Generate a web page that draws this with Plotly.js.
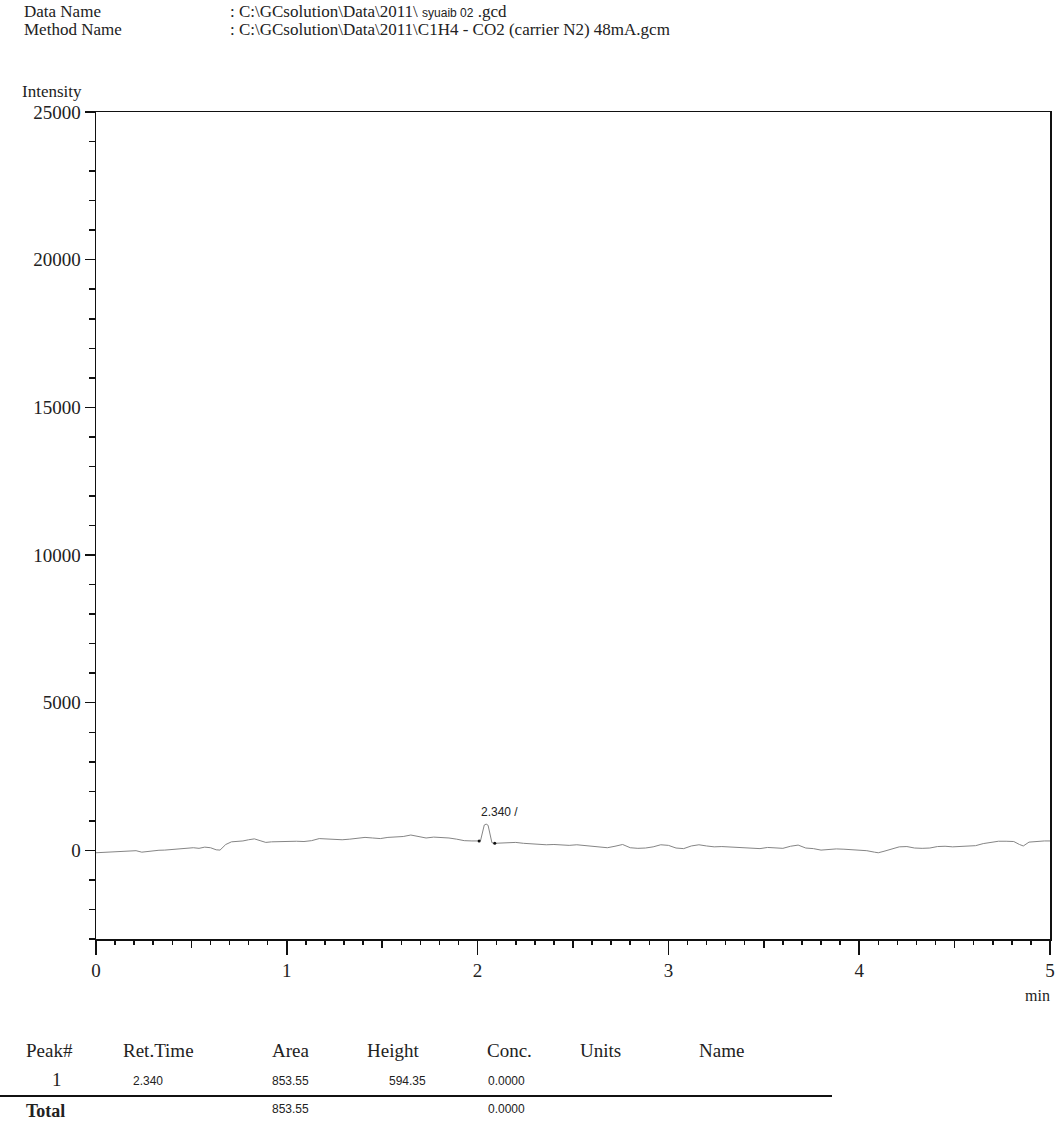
<!DOCTYPE html>
<html>
<head>
<meta charset="utf-8">
<script src="https://cdn.plot.ly/plotly-3.0.1.min.js"></script>
<style>
html,body{margin:0;padding:0;background:#fff;}
#chart{width:1058px;height:1125px;}
</style>
</head>
<body>
<div id="chart"></div>
<script>
// ---- Data ----
const timeMin = [0,0.03,0.06,0.09,0.12,0.15,0.18,0.21,0.24,0.27,0.30,0.33,0.36,0.39,0.42,0.45,0.48,0.51,0.54,0.57,0.60,0.63,0.65,0.68,0.71,0.74,0.77,0.80,0.83,0.86,0.89,0.92,0.95,0.98,1.01,1.05,1.09,1.13,1.17,1.21,1.25,1.29,1.33,1.37,1.41,1.45,1.49,1.53,1.57,1.61,1.65,1.69,1.73,1.77,1.81,1.85,1.89,1.93,1.97,2.00,2.015,2.035,2.045,2.055,2.075,2.09,2.12,2.16,2.20,2.24,2.28,2.32,2.36,2.40,2.44,2.48,2.52,2.56,2.60,2.64,2.68,2.72,2.76,2.80,2.84,2.88,2.92,2.96,3.00,3.04,3.08,3.12,3.16,3.20,3.24,3.28,3.32,3.36,3.40,3.44,3.48,3.52,3.56,3.60,3.64,3.68,3.72,3.76,3.80,3.84,3.88,3.92,3.96,4.00,4.04,4.08,4.10,4.13,4.17,4.21,4.25,4.29,4.33,4.37,4.41,4.45,4.49,4.53,4.57,4.61,4.65,4.69,4.73,4.77,4.81,4.84,4.86,4.89,4.93,4.97,5.00];
const intensity = [-80,-70,-60,-45,-55,-30,-20,-10,-60,-30,-10,5,10,25,30,40,60,90,70,110,90,20,10,200,290,300,320,360,390,330,270,290,300,305,300,310,300,330,400,380,370,360,380,400,440,420,400,440,460,470,520,480,420,450,440,420,380,330,320,315,320,860,890,850,260,240,250,240,270,240,220,210,190,200,180,170,190,160,150,120,90,140,200,90,70,80,120,190,170,80,60,150,190,150,120,130,120,110,100,80,60,100,90,70,140,180,80,60,10,30,50,40,30,20,-10,-60,-80,-30,40,120,130,80,70,80,130,140,120,130,150,160,230,270,310,310,300,200,150,280,310,320,320];
const baselineT = [2.008, 2.09];
const baselineI = [318, 240];
const peakLabelT = 2.117;
const peakLabelI = 1290;
const peakLabel = "2.340 /";

const xTickVals = [0,1,2,3,4,5];
const halfTickVals = [0.5,1.5,2.5,3.5,4.5];
const yTickVals = [0,5000,10000,15000,20000,25000];

const headerLabels = ["Data Name", "Method Name"];
const headerValues = [": C:\\GCsolution\\Data\\2011\\ <span style=\"font-family:'Liberation Sans';font-size:12px\">syuaib 02</span> .gcd",
                      ": C:\\GCsolution\\Data\\2011\\C1H4 - CO2 (carrier N2) 48mA.gcm"];

const tableHeaders = ["Peak#", "Ret.Time", "Area", "Height", "Conc.", "Units", "Name"];
const peakRow = ["1", "2.340", "853.55", "594.35", "0.0000"];
const totalRow = ["Total", "", "853.55", "", "0.0000"];

// ---- Layout helpers ----
const W = 1058, H = 1125;
const L = 96, R = 8, T = 112, B = 186;
const pw = W - L - R, ph = H - T - B;
function px(x){ return (x - L) / pw; }
function py(y){ return (H - B - y) / ph; }

const serif = "Liberation Serif, Times New Roman, serif";
const sans = "Liberation Sans, Arial, sans-serif";
const ink = "#222";

const ann = [];
function text(t, x, y, opts){
  ann.push(Object.assign({text:t, xref:'paper', yref:'paper', x:px(x), y:py(y), showarrow:false,
    xanchor:'left', yanchor:'middle', font:{family:serif, size:19, color:ink}}, opts||{}));
}

// Header
headerLabels.forEach((s,i)=> text(s, 22, 11.5 + i*18.5, {font:{family:serif, size:17, color:ink}}));
headerValues.forEach((s,i)=> text(s, 228, 11.5 + i*18.5, {font:{family:serif, size:17, color:ink}}));

// Y title
text("Intensity", 20, 92, {font:{family:serif, size:17, color:ink}});
// x unit
text("min", 1052, 995, {xanchor:'right', font:{family:serif, size:16, color:ink}});

// Table
const headX = [24, 121, 270, 365, 485, 578, 697];
tableHeaders.forEach((s,i)=> text(s, headX[i], 1050));
const colCX = [57, 148, 290, 407, 506];
peakRow.forEach((s,i)=>{
  if(i===0) text(s, colCX[i], 1079, {xanchor:'center'});
  else text(s, colCX[i], 1081, {xanchor:'center', font:{family:sans, size:12, color:ink}});
});
totalRow.forEach((s,i)=>{
  if(!s) return;
  if(i===0) text("<b>"+s+"</b>", 24, 1111, {font:{family:serif, size:18, color:ink}});
  else text(s, colCX[i], 1109, {xanchor:'center', font:{family:sans, size:12, color:ink}});
});

// Peak label
ann.push({text:peakLabel, x:peakLabelT, y:peakLabelI, xref:'x', yref:'y', showarrow:false,
  xanchor:'center', yanchor:'middle', font:{family:sans, size:12, color:ink}});

const shapes = [{type:'line', xref:'paper', yref:'paper', x0:px(0), x1:px(832), y0:py(1096), y1:py(1096),
  line:{color:'#111', width:2}}];

const traces = [
  {x:timeMin, y:intensity, type:'scatter', mode:'lines', line:{color:'#858585', width:1}, hoverinfo:'skip'},
  {x:baselineT, y:baselineI, type:'scatter', mode:'markers', xaxis:'x2', marker:{color:'#111', size:3}, hoverinfo:'skip'}
];

const layout = {
  width:W, height:H,
  margin:{l:L, r:R, t:T, b:B},
  paper_bgcolor:'#fff', plot_bgcolor:'#fff',
  showlegend:false,
  font:{family:serif, color:ink},
  xaxis:{range:[0,5], tickvals:xTickVals, ticktext:xTickVals.map(String), ticks:'outside', ticklen:14, tickwidth:1.5, tickcolor:'#111',
    showline:true, linecolor:'#111', linewidth:1.5, mirror:true, showgrid:false, zeroline:false,
    tickfont:{family:serif, size:19, color:ink},
    minor:{dtick:0.1, tick0:0, ticks:'outside', ticklen:4, tickwidth:1.5, tickcolor:'#111', showgrid:false}},
  xaxis2:{range:[0,5], overlaying:'x', anchor:'y', side:'bottom', tickvals:halfTickVals, ticks:'outside', ticklen:8, tickwidth:1.5,
    tickcolor:'#111', showticklabels:false, showline:false, showgrid:false, zeroline:false},
  yaxis:{range:[-3000,25000], tickvals:yTickVals, ticktext:yTickVals.map(String), ticks:'outside', ticklen:10, tickwidth:1.5, tickcolor:'#111',
    showline:true, linecolor:'#111', linewidth:1.5, mirror:true, showgrid:false, zeroline:false, ticklabelstandoff:0,
    tickfont:{family:serif, size:19, color:ink},
    minor:{dtick:1000, tick0:0, ticks:'outside', ticklen:6, tickwidth:1.5, tickcolor:'#111', showgrid:false}},
  annotations:ann,
  shapes:shapes
};

Plotly.newPlot('chart', traces, layout, {staticPlot:true, displayModeBar:false});
</script>
</body>
</html>
